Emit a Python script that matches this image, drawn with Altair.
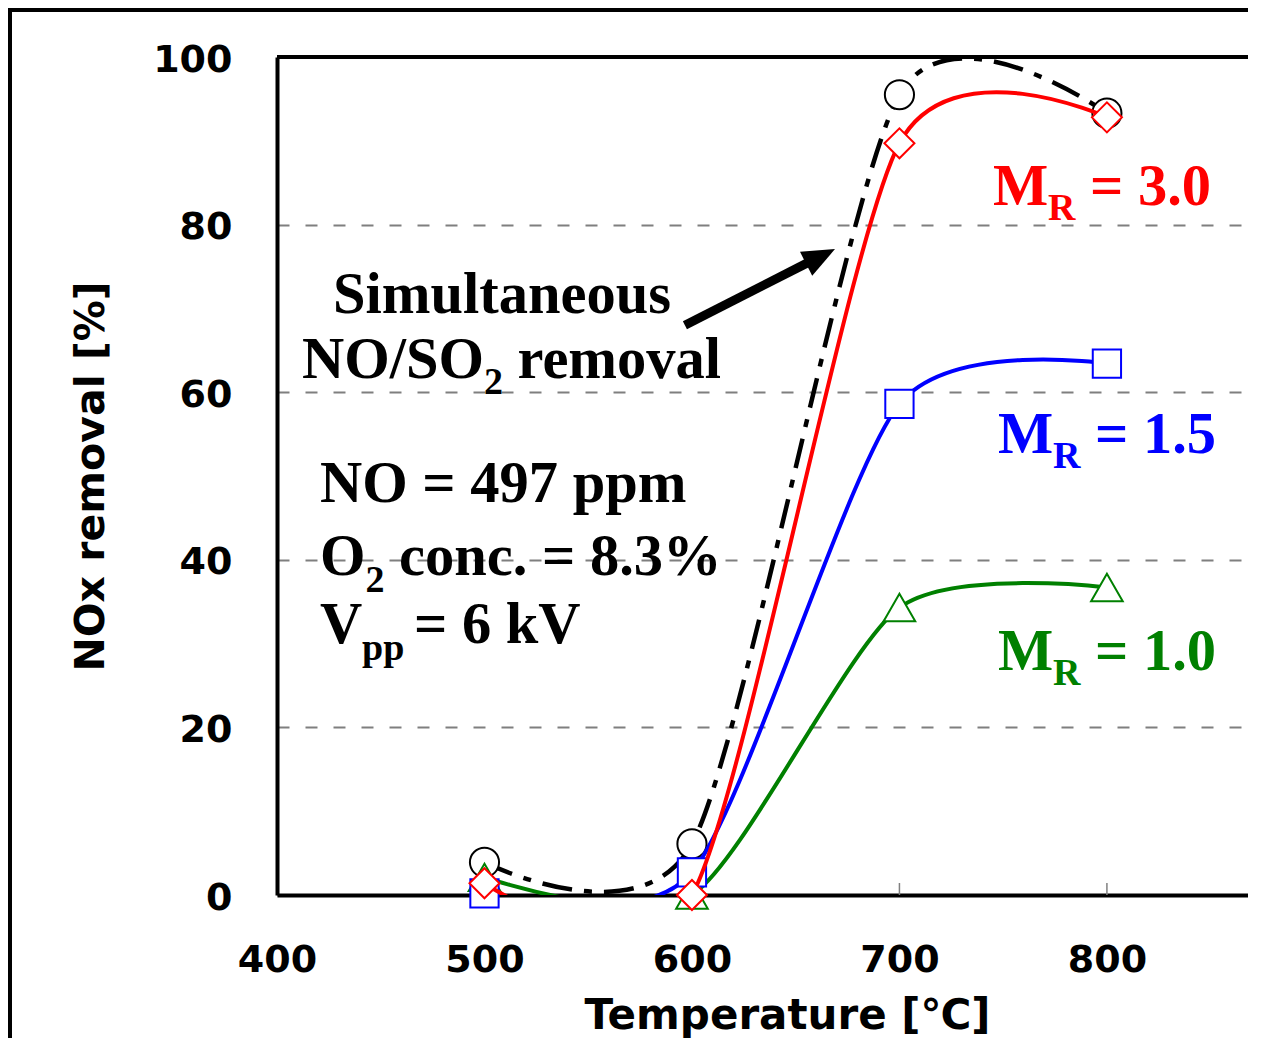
import altair as alt
import pandas as pd

# ---- data ----
temps = [500, 600, 700, 800]
simultaneous = [3.9, 6.1, 95.5, 93.3]
mr_30 = [1.4, 0.0, 89.7, 92.8]
mr_15 = [0.2, 2.7, 58.6, 63.4]
mr_10 = [2.1, 0.0, 34.3, 36.7]

x_ticks = [400, 500, 600, 700, 800]
y_ticks = [0, 20, 40, 60, 80, 100]
inner_ticks = [500, 600, 700, 800]

W, H = 971, 838
SANS = "DejaVu Sans"
SERIF = "Liberation Serif"

x_axis = alt.Axis(values=x_ticks, format="d", labelFont=SANS, labelFontSize=38,
                  labelFontWeight="bold", labelColor="black", labelBaseline="alphabetic",
                  labelPadding=76, labelFlush=False, ticks=False, tickSize=0,
                  domainColor="black", domainWidth=4, grid=False,
                  title="Temperature [℃]", titleFont=SANS, titleFontSize=42,
                  titleFontWeight="bold", titleColor="black", titleX=510, titleY=133,
                  titleAlign="center", titleBaseline="alphabetic")
y_axis = alt.Axis(values=y_ticks, format="d", labelFont=SANS, labelFontSize=38,
                  labelFontWeight="bold", labelColor="black", labelBaseline="middle",
                  labelPadding=45, labelOffset=3, labelFlush=False, ticks=False, tickSize=0,
                  domainColor="black", domainWidth=4, grid=True, gridColor="#7f7f7f",
                  gridDash=[12, 16], gridWidth=2,
                  title="NOx removal [%]", titleFont=SANS, titleFontSize=41,
                  titleFontWeight="bold", titleColor="black", titleAngle=270,
                  titleX=-174, titleY=419, titleAlign="center", titleBaseline="alphabetic")

xs = alt.Scale(domain=[400, 868], nice=False, zero=False)
ys = alt.Scale(domain=[0, 100], nice=False, zero=False)
X = alt.X("T:Q", scale=xs, axis=x_axis)
Y = alt.Y("V:Q", scale=ys, axis=y_axis)

layers = []

def series_layers(vals, color, shape, size, dash=None, lw=4):
    df = pd.DataFrame({"T": temps, "V": vals})
    lkw = dict(interpolate="cardinal", tension=0.25, color=color, strokeWidth=lw, clip=True)
    if dash:
        lkw["strokeDash"] = dash
    line = alt.Chart(df).mark_line(**lkw).encode(x=X, y=Y)
    pts = alt.Chart(df).mark_point(shape=shape, size=size, filled=True, fill="white",
                                   stroke=color, strokeWidth=2, opacity=1).encode(x=X, y=Y)
    return [line, pts]

layers += series_layers(simultaneous, "black", "circle", 850, dash=[30, 12, 8, 12], lw=4.5)
layers += series_layers(mr_10, "#008000", "triangle-up", 1000)
layers += series_layers(mr_15, "#0000ff", "square", 800)
layers += series_layers(mr_30, "#ff0000", "diamond", 900)

# inner ticks on x axis
tick_df = pd.DataFrame({"T": inner_ticks})
ticks = alt.Chart(tick_df).mark_rule(color="#808080", strokeWidth=1.5).encode(
    x=X, y=alt.value(H - 12), y2=alt.value(H))

# top frame line and outer figure border
frame_df = pd.DataFrame({"T": [0]})
top_line = alt.Chart(frame_df).mark_rule(color="black", strokeWidth=4).encode(
    x=alt.value(0), x2=alt.value(W), y=alt.value(0))
outer_left = alt.Chart(frame_df).mark_rule(color="black", strokeWidth=4).encode(
    x=alt.value(-267), y=alt.value(-49), y2=alt.value(H + 143))
outer_top = alt.Chart(frame_df).mark_rule(color="black", strokeWidth=4).encode(
    x=alt.value(-269), x2=alt.value(W), y=alt.value(-47))

# arrow
arrow_df = pd.DataFrame({"T": [596.6], "V": [68.0], "T2": [657.8], "V2": [75.7]})
shaft = alt.Chart(arrow_df).mark_rule(color="black", strokeWidth=9).encode(
    x=X, y=Y, x2="T2:Q", y2="V2:Q")
head_df = pd.DataFrame({"T": [661.2], "V": [76.1]})
head = alt.Chart(head_df).mark_point(shape="M0,-1L0.75,0.8L-0.75,0.8Z", size=1296,
                                     angle=63, filled=True, color="black", opacity=1,
                                     strokeWidth=0).encode(x=X, y=Y)

def label(text, t, v, size, color="black"):
    df = pd.DataFrame({"T": [t], "V": [v], "txt": [text]})
    return alt.Chart(df).mark_text(font=SERIF, fontWeight="bold", fontSize=size,
                                   color=color, align="left", baseline="alphabetic").encode(
        x=X, y=Y, text="txt:N")

F, S = 58.5, 38
texts = [
    label("Simultaneous", 426.99, 69.45, F),
    label("NO/SO", 412.05, 61.69, F),
    label("2", 499.76, 59.79, S),
    label("removal", 515.90, 61.69, F),
    label("NO = 497 ppm", 420.72, 46.90, F),
    label("O", 420.72, 38.19, F),
    label("2", 442.65, 36.16, S),
    label("conc. = 8.3%", 458.80, 38.19, F),
    label("V", 420.72, 30.07, F),
    label("pp", 441.00, 28.04, S),
    label("= 6 kV", 466.02, 30.07, F),
    label("M", 745.06, 82.34, F, "#ff0000"),
    label("R", 771.56, 80.55, S, "#ff0000"),
    label("= 3.0", 791.81, 82.34, F, "#ff0000"),
    label("M", 747.47, 52.74, F, "#0000ff"),
    label("R", 773.97, 50.95, S, "#0000ff"),
    label("= 1.5", 794.22, 52.74, F, "#0000ff"),
    label("M", 747.47, 26.85, F, "#008000"),
    label("R", 773.97, 25.06, S, "#008000"),
    label("= 1.0", 794.22, 26.85, F, "#008000"),
]

chart = alt.layer(ticks, *layers, top_line, outer_left, outer_top, shaft, head, *texts).properties(
    width=W, height=H,
    autosize=alt.AutoSizeParams(type="none"),
    padding={"left": 269, "top": 49, "right": 0, "bottom": 143},
).configure_view(stroke=None).configure(background="white")

chart.save("out.html", embed_options={"renderer": "svg", "actions": False})
